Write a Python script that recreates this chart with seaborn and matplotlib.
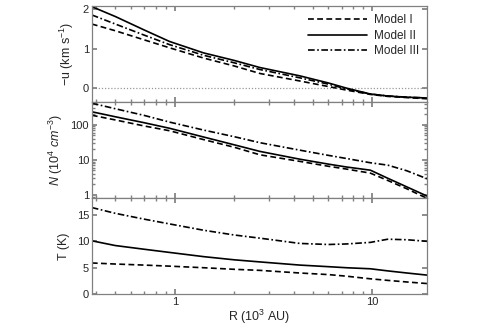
import matplotlib
matplotlib.use("Agg")
import matplotlib.pyplot as plt
import matplotlib.ticker as mticker
import numpy as np
import pandas as pd
import seaborn as sns

# radius grid (10^3 AU)
R = [0.38, 0.5, 0.7, 0.94, 1.4, 2.0, 2.7, 4.3, 6.0, 7.4, 9.8, 12, 15, 19]
MODELS = ["Model I", "Model II", "Model III"]

# infall velocity -u (km/s)
u_I   = [1.62, 1.45, 1.22, 1.02, 0.76, 0.56, 0.37, 0.18, 0.04, -0.05, -0.16, -0.21, -0.24, -0.27]
u_II  = [2.06, 1.81, 1.47, 1.18, 0.89, 0.70, 0.52, 0.31, 0.13, 0.00, -0.15, -0.20, -0.23, -0.25]
u_III = [1.85, 1.62, 1.34, 1.10, 0.83, 0.64, 0.47, 0.26, 0.10, -0.02, -0.15, -0.20, -0.23, -0.25]

# density N (10^4 cm^-3)
N_I   = [188, 138, 93, 68, 38, 23, 14, 9.1, 6.6, 5.5, 4.2, 2.6, 1.5, 0.8]
N_II  = [236, 170, 115, 80, 45, 27, 17.5, 10.5, 7.6, 6.3, 5.1, 3.0, 1.7, 0.93]
N_III = [415, 288, 186, 120, 71, 46, 31, 19, 13.5, 11, 8.3, 7.1, 4.9, 2.9]

# temperature T (K)
T_I   = [5.9, 5.7, 5.5, 5.3, 5.0, 4.7, 4.5, 4.0, 3.7, 3.4, 2.9, 2.6, 2.3, 2.0]
T_II  = [10.1, 9.2, 8.5, 7.9, 7.1, 6.5, 6.1, 5.5, 5.2, 5.0, 4.8, 4.4, 4.0, 3.6]
T_III = [16.4, 15.3, 14.2, 13.3, 12.1, 11.2, 10.6, 9.6, 9.4, 9.5, 9.8, 10.4, 10.3, 10.0]

sns.set_theme(style="ticks")
plt.rcParams["font.family"] = ["Liberation Sans", "DejaVu Sans"]
plt.rcParams["font.size"] = 8
plt.rcParams["axes.labelsize"] = 9
plt.rcParams["xtick.labelsize"] = 8
plt.rcParams["ytick.labelsize"] = 8
plt.rcParams["mathtext.fontset"] = "custom"
plt.rcParams["mathtext.rm"] = "Liberation Sans"
plt.rcParams["mathtext.it"] = "Liberation Sans:italic"

GRAY = "#808080"
DASHES = {"Model I": (3.5, 2), "Model II": "", "Model III": (4, 1.5, 1, 1.5)}
PALETTE = {m: "black" for m in MODELS}


def long_frame(series):
    rows = []
    for name, vals in zip(MODELS, series):
        for r, v in zip(R, vals):
            rows.append({"R": r, "val": v, "model": name})
    return pd.DataFrame(rows)


def style_axis(ax):
    for s in ax.spines.values():
        s.set_color(GRAY)
        s.set_linewidth(0.9)
    ax.tick_params(which="both", direction="in", top=True, right=True,
                   color=GRAY, labelsize=8, pad=2)
    ax.tick_params(which="major", length=3.5)
    ax.tick_params(which="minor", length=2)


fig, axes = plt.subplots(3, 1, sharex=True, figsize=(4.91, 3.25), dpi=100)
fig.subplots_adjust(left=0.187, right=0.87, top=0.982, bottom=0.095, hspace=0)

panels = [(u_I, u_II, u_III), (N_I, N_II, N_III), (T_I, T_II, T_III)]
for ax, series in zip(axes, panels):
    df = long_frame(series)
    sns.lineplot(data=df, x="R", y="val", hue="model", style="model",
                 palette=PALETTE, dashes=DASHES, linewidth=1.2, ax=ax,
                 legend=False)
    style_axis(ax)

ax0, ax1, ax2 = axes
ax0.axhline(0, color="#999999", linestyle=(0, (1, 1.5)), linewidth=0.9, zorder=0)
ax0.set_ylim(-0.35, 2.08)
ax0.set_yticks([0, 1, 2])
ax0.set_ylabel("$-$u (km s$^{-1}$)", labelpad=5)

ax1.set_yscale("log")
ax1.set_ylim(0.82, 450)
ax1.set_yticks([1, 10, 100])
ax1.yaxis.set_major_formatter(mticker.FuncFormatter(lambda v, p: f"{v:g}"))
ax1.set_ylabel(r"$N$ $\it{(10^4\ cm^{-3})}$", labelpad=4)

ax2.set_ylim(0, 18.2)
ax2.set_yticks([0, 5, 10, 15])
ax2.set_ylabel("T (K)", labelpad=5)

ax2.set_xscale("log")
ax2.set_xlim(0.38, 19)
ax2.set_xticks([1, 10])
ax2.xaxis.set_major_formatter(mticker.FuncFormatter(lambda v, p: f"{v:g}"))
ax2.set_xlabel("R (10$^3$ AU)", labelpad=0.5)

handles = [plt.Line2D([], [], color="black", linewidth=1.2, dashes=DASHES["Model I"]),
           plt.Line2D([], [], color="black", linewidth=1.2),
           plt.Line2D([], [], color="black", linewidth=1.2, dashes=DASHES["Model III"])]
ax0.legend(handles, MODELS, loc="upper right", frameon=False,
           handlelength=5.0, handletextpad=0.6, fontsize=8.5,
           borderaxespad=0.3, labelspacing=0.3)

fig.savefig("out.png", dpi=100)
